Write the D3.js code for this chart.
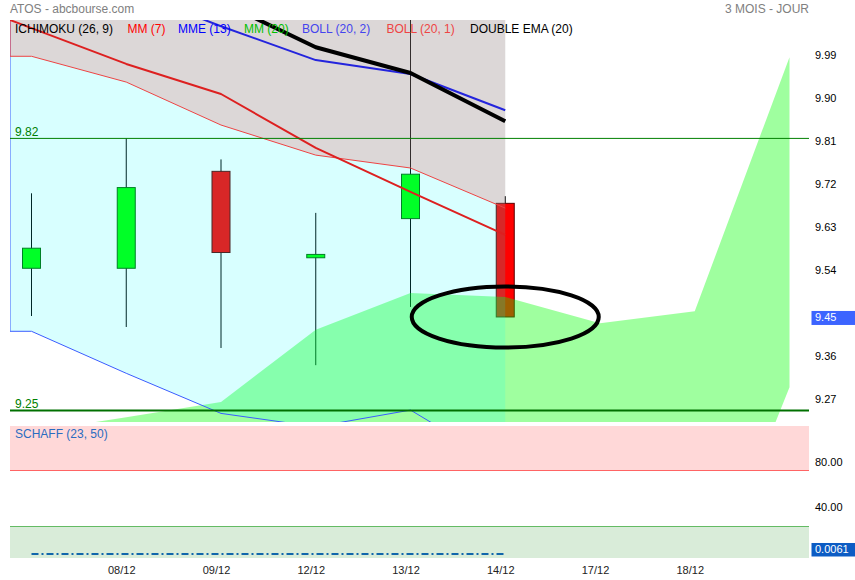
<!DOCTYPE html>
<html>
<head>
<meta charset="utf-8">
<script src="https://cdn.jsdelivr.net/npm/d3@7"></script>
<style>
  html, body { margin: 0; padding: 0; background: #fff; }
  svg { display: block; font-family: "Liberation Sans", Arial, sans-serif; }
</style>
</head>
<body>
<svg id="chart" width="855" height="580"></svg>
<script>
// ---------------- data ----------------
const dates = ["07/12", "08/12", "09/12", "12/12", "13/12", "14/12"];
const futureDates = ["17/12", "18/12", "19/12"];
const shownDates = ["08/12", "09/12", "12/12", "13/12", "14/12", "17/12", "18/12"];
const shownDateIdx = [1, 2, 3, 4, 5, 6, 7];

const opens  = [9.548, 9.548, 9.751, 9.570, 9.652, 9.684];
const highs  = [9.705, 9.820, 9.776, 9.664, 10.080, 9.699];
const lows   = [9.448, 9.425, 9.381, 9.345, 9.467, 9.446];
const closes = [9.590, 9.717, 9.581, 9.577, 9.745, 9.446];

// moving averages (index offsets given separately)
const mm7Start = -1;
const mm7 = [10.126, 10.051, 9.976, 9.913, 9.800, 9.708, 9.618];
const mme13Start = 1;
const mme13 = [10.131, 10.055, 9.984, 9.955, 9.879];
const demaStart = 2;
const dema20 = [10.106, 10.011, 9.957, 9.856];

// Bollinger lower bands (uppers lie above the visible area)
const boll1Lower = [9.992, 9.938, 9.848, 9.785, 9.758, 9.674];
const boll2Lower = [9.416, 9.328, 9.244, 9.216, 9.251, 9.132];

// Ichimoku cloud (spans, projected 3 sessions ahead)
const spanA = [9.205, 9.236, 9.268, 9.419, 9.496, 9.488, 9.433, 9.458, 9.990];
const spanB = [8.950, 8.930, 8.910, 8.890, 8.870, 8.850, 8.830, 8.802, 9.299];

const levels = [9.82, 9.25];
const priceTicks = [9.27, 9.36, 9.45, 9.54, 9.63, 9.72, 9.81, 9.90, 9.99];

// Schaff trend cycle
const schaff = [0.006, 0.006, 0.006, 0.006, 0.006, 0.0061];
const schaffLevels = [75, 25];
const schaffTicks = [80, 40];

const legendItems = ["ICHIMOKU (26, 9)", "MM (7)", "MME (13)", "MM (20)", "BOLL (20, 2)", "BOLL (20, 1)", "DOUBLE EMA (20)"];
const legendColors = ["#000000", "#ff0000", "#0000ff", "#00c000", "#4444ee", "#ee4444", "#000000"];
const legendX = [15, 127.5, 178, 244, 302, 386.5, 470];

// ---------------- layout ----------------
const svg = d3.select("#chart");
const L = 10, R = 809, T = 20, B = 422;
const x = d3.scaleLinear().domain([(L - 31.5) / 94.75, (R - 31.5) / 94.75]).range([L, R]);
const y = d3.scaleLinear().domain([9.226, 10.068]).range([B, T]);
const sT = 426, sB = 558;
const s = d3.scaleLinear().domain([-3.57, 114.29]).range([sB, sT]);

svg.append("defs").append("clipPath").attr("id", "clipMain")
  .append("rect").attr("x", L).attr("y", T).attr("width", R - L).attr("height", B - T);

const main = svg.append("g").attr("clip-path", "url(#clipMain)");

// candles
const candles = dates.map((d, i) => ({ i, o: opens[i], h: highs[i], l: lows[i], c: closes[i] }));
const bw = 18;
main.selectAll("line.wick").data(candles).join("line")
  .attr("x1", d => x(d.i)).attr("x2", d => x(d.i))
  .attr("y1", d => y(d.h)).attr("y2", d => y(d.l))
  .attr("stroke", "#000").attr("stroke-width", 1);
main.selectAll("rect.body").data(candles).join("rect")
  .attr("x", d => x(d.i) - bw / 2)
  .attr("y", d => y(Math.max(d.o, d.c)))
  .attr("width", bw)
  .attr("height", d => Math.max(2, Math.abs(y(d.o) - y(d.c))))
  .attr("fill", d => d.c >= d.o ? "#00ff00" : "#ff0000")
  .attr("stroke", d => d.c >= d.o ? "#006a00" : "#5a0000")
  .attr("stroke-width", 1);

// Ichimoku cloud
const cloud = spanA.map((a, i) => ({ i, a, b: spanB[i] }));
main.append("path").datum(cloud)
  .attr("d", d3.area().x(d => x(d.i)).y0(d => y(d.b)).y1(d => y(d.a)))
  .attr("fill", "rgba(0,255,0,0.376)");

// Bollinger bands fills (upper edges beyond the top of the plot)
function bandPts(arr) {
  return [{ px: L, v: arr[0] }].concat(arr.map((v, i) => ({ px: x(i), v })));
}
function drawBand(arr, fill, stroke) {
  const pts = bandPts(arr);
  main.append("path").datum(pts)
    .attr("d", d3.area().x(d => d.px).y0(d => y(d.v)).y1(T))
    .attr("fill", fill);
  const edge = [{ px: L, yy: T }].concat(pts.map(p => ({ px: p.px, yy: y(p.v) })));
  main.append("path").datum(edge)
    .attr("d", d3.line().x(d => d.px).y(d => d.yy))
    .attr("fill", "none").attr("stroke", stroke).attr("stroke-width", 1);
}
drawBand(boll2Lower, "rgba(0,255,255,0.153)", "#3a5cff");
drawBand(boll1Lower, "rgba(238,68,68,0.21)", "#ee4444");

// moving average lines
function drawLine(arr, start, color, width) {
  main.append("path").datum(arr.map((v, k) => ({ i: start + k, v })))
    .attr("d", d3.line().x(d => x(d.i)).y(d => y(d.v)))
    .attr("fill", "none").attr("stroke", color).attr("stroke-width", width)
    .attr("stroke-linejoin", "round");
}
drawLine(mm7, mm7Start, "#dd2020", 2);
drawLine(mme13, mme13Start, "#2424dd", 2);
drawLine(dema20, demaStart, "#000000", 4);

// support / resistance levels
svg.selectAll("line.level").data(levels).join("line")
  .attr("x1", L).attr("x2", R)
  .attr("y1", d => y(d)).attr("y2", d => y(d))
  .attr("stroke", (d, i) => i === 0 ? "#008000" : "#007000")
  .attr("stroke-width", (d, i) => i === 0 ? 1 : 2);
svg.selectAll("text.level").data(levels).join("text")
  .attr("x", 15).attr("y", d => y(d) - 2.5)
  .attr("font-size", 12).attr("fill", "#008000")
  .text(d => d.toFixed(2));

// ellipse annotation on last candle
svg.append("ellipse")
  .attr("cx", x(candles.length - 1)).attr("cy", y(closes[closes.length - 1]))
  .attr("rx", 93.5).attr("ry", 30.5)
  .attr("fill", "none").attr("stroke", "#000").attr("stroke-width", 4);

// title and legend
svg.append("text").attr("x", 10).attr("y", 13).attr("font-size", 12).attr("fill", "#808080")
  .text("ATOS - abcbourse.com");
svg.append("text").attr("x", 809).attr("y", 13).attr("font-size", 12).attr("fill", "#808080")
  .attr("text-anchor", "end").text("3 MOIS - JOUR");
svg.selectAll("text.legend").data(legendItems).join("text")
  .attr("x", (d, i) => legendX[i]).attr("y", 32.5)
  .attr("font-size", 12).attr("fill", (d, i) => legendColors[i])
  .text(d => d);

// right price axis (the tick hidden under the last-price marker is skipped)
const last = closes[closes.length - 1];
svg.selectAll("text.ptick").data(priceTicks.filter(t => Math.abs(y(t) - y(last)) > 10)).join("text")
  .attr("x", 815).attr("y", d => y(d) + 2)
  .attr("font-size", 11).attr("fill", "#000")
  .text(d => d.toFixed(2));
svg.append("rect").attr("x", 811.5).attr("y", y(last) - 6).attr("width", 44).attr("height", 14)
  .attr("fill", "#3c64ff");
svg.append("text").attr("x", 815).attr("y", y(last) + 4.5)
  .attr("font-size", 11).attr("fill", "#fff").text(last.toFixed(2));

// ---------------- Schaff panel ----------------
svg.append("rect").attr("x", L).attr("y", sT).attr("width", R - L).attr("height", s(schaffLevels[0]) - sT)
  .attr("fill", "#ffd8d8");
svg.append("rect").attr("x", L).attr("y", s(schaffLevels[1])).attr("width", R - L).attr("height", sB - s(schaffLevels[1]))
  .attr("fill", "#d9ecd9");
svg.selectAll("line.slevel").data(schaffLevels).join("line")
  .attr("x1", L).attr("x2", R)
  .attr("y1", d => Math.round(s(d)) + 0.5).attr("y2", d => Math.round(s(d)) + 0.5)
  .attr("stroke", (d, i) => i === 0 ? "#ff6464" : "#64bb64").attr("stroke-width", 1);
svg.append("path").datum(schaff.map((v, i) => ({ i, v })))
  .attr("d", d3.line().x(d => x(d.i)).y(d => s(d.v)))
  .attr("fill", "none").attr("stroke", "#1166aa").attr("stroke-width", 2)
  .attr("stroke-dasharray", "7,3,2,3");
svg.append("text").attr("x", 15).attr("y", 437.5).attr("font-size", 12).attr("fill", "#2a6cc0")
  .text("SCHAFF (23, 50)");
svg.selectAll("text.stick").data(schaffTicks).join("text")
  .attr("x", 815).attr("y", d => s(d) + 2)
  .attr("font-size", 11).attr("fill", "#000")
  .text(d => d.toFixed(2));
const lastS = schaff[schaff.length - 1];
svg.append("rect").attr("x", 811.5).attr("y", s(lastS) - 11).attr("width", 44).attr("height", 13.5)
  .attr("fill", "#0c5cc4");
svg.append("text").attr("x", 815).attr("y", s(lastS) - 0.5)
  .attr("font-size", 11).attr("fill", "#fff").text(lastS.toFixed(4));

// ---------------- date axis ----------------
svg.selectAll("text.date").data(shownDates).join("text")
  .attr("x", (d, k) => x(shownDateIdx[k]) - 4.5).attr("y", 574)
  .attr("text-anchor", "middle").attr("font-size", 11).attr("fill", "#222")
  .text(d => d);
</script>
</body>
</html>
